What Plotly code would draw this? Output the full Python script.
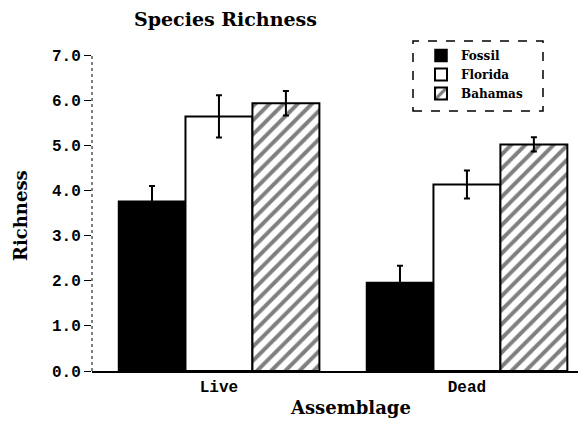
import plotly.graph_objects as go

categories = ["Live", "Dead"]
series_names = ["Fossil", "Florida", "Bahamas"]
fossil = [3.76, 1.96]
florida = [5.64, 4.13]
bahamas = [5.93, 5.02]
fossil_err = [0.34, 0.37]
florida_err = [0.47, 0.31]
bahamas_err = [0.27, 0.16]
y_ticks = [0, 1, 2, 3, 4, 5, 6, 7]
y_tick_labels = ["0.0", "1.0", "2.0", "3.0", "4.0", "5.0", "6.0", "7.0"]

serif = "DejaVu Serif"
mono = "Liberation Mono"

# page body has an 8px margin; work in page coordinates and offset
OFF = 8
W, H = 586 - OFF, 425 - OFF
L, T = 92 - OFF, 55 - OFF
R = W - (580 - OFF)
B = H - (371 - OFF)
pw, ph = W - L - R, H - T - B


def px(x):
    return (x - OFF - L) / pw


def py(y):
    return (H - B - (y - OFF)) / ph


fig = go.Figure()
fig.add_bar(
    x=categories, y=fossil, name=series_names[0],
    marker=dict(color="black", line=dict(color="black", width=1.5)),
    error_y=dict(type="data", array=fossil_err, color="black", thickness=2, width=3),
)
fig.add_bar(
    x=categories, y=florida, name=series_names[1],
    marker=dict(color="white", line=dict(color="black", width=2)),
    error_y=dict(type="data", array=florida_err, color="black", thickness=2, width=3),
)
fig.add_bar(
    x=categories, y=bahamas, name=series_names[2],
    marker=dict(color="white", line=dict(color="black", width=2),
                pattern=dict(shape="/", fgcolor="black", bgcolor="white", size=10, solidity=0.4)),
    error_y=dict(type="data", array=bahamas_err, color="black", thickness=2, width=3),
)

fig.update_layout(
    width=W, height=H,
    margin=dict(l=L, r=R, t=T, b=B, autoexpand=False),
    paper_bgcolor="white", plot_bgcolor="white",
    barmode="group", bargap=0.19, bargroupgap=0,
    showlegend=True,
    legend=dict(
        x=px(421), y=py(41), xanchor="left", yanchor="top",
        bgcolor="rgba(0,0,0,0)", borderwidth=0,
        font=dict(family=serif, size=12, color="black", weight="bold"),
        itemwidth=30, tracegroupgap=0,
    ),
    xaxis=dict(
        range=[-0.512, 1.456], showline=True, linecolor="black", linewidth=1.5,
        ticks="", showgrid=False,
        tickfont=dict(family=mono, size=16, color="black", weight="bold"),
    ),
    yaxis=dict(
        range=[0, 7], tickvals=y_ticks, ticktext=y_tick_labels,
        showline=False, ticks="outside", ticklen=7, tickcolor="black", tickwidth=1,
        showgrid=False, zeroline=False,
        tickfont=dict(family=mono, size=16, color="black", weight="bold"),
    ),
    annotations=[
        dict(text="<b>Species Richness</b>", x=px(225), y=py(19), xref="paper", yref="paper",
             xanchor="center", yanchor="middle", showarrow=False,
             font=dict(family=serif, size=19, color="black")),
        dict(text="<b>Assemblage</b>", x=px(350), y=py(407), xref="paper", yref="paper",
             xanchor="center", yanchor="middle", showarrow=False,
             font=dict(family=serif, size=18, color="black")),
        dict(text="<b>Richness</b>", x=px(20), y=py(216), xref="paper", yref="paper",
             xanchor="center", yanchor="middle", textangle=-90, showarrow=False,
             font=dict(family=serif, size=18, color="black")),
    ],
    shapes=[
        dict(type="line", xref="paper", yref="paper", x0=0, x1=0, y0=0, y1=1,
             line=dict(color="black", width=1, dash="dot")),
        dict(type="rect", xref="paper", yref="paper",
             x0=px(413), x1=px(543), y0=py(111), y1=py(41),
             line=dict(color="black", width=1.5, dash="dash")),
    ],
)

fig.write_html("out.html")
